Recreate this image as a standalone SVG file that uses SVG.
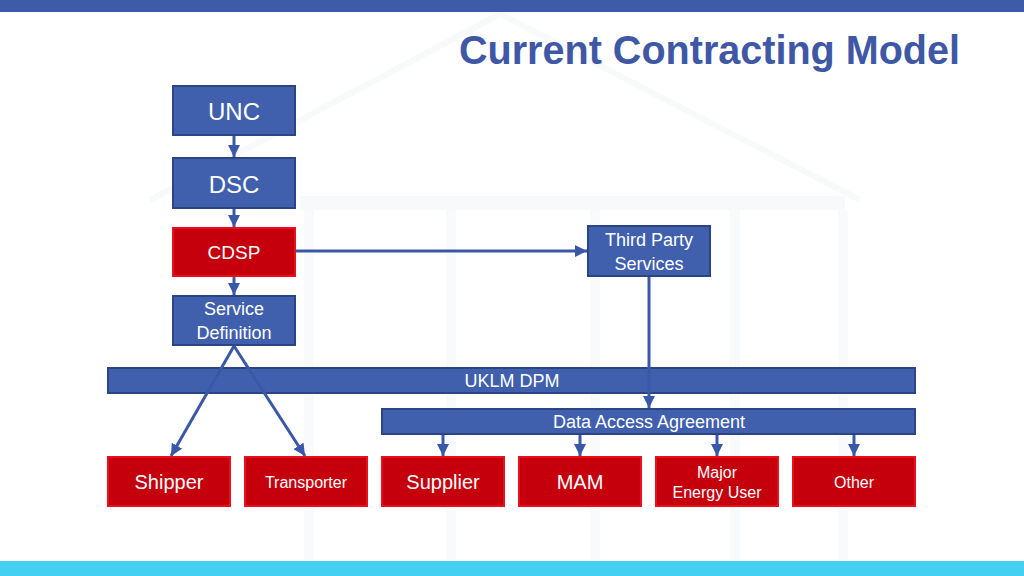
<svg xmlns="http://www.w3.org/2000/svg" width="1024" height="576" viewBox="0 0 1024 576">
  <style>
    .blue { fill: #4060ae; stroke: #2b4584; stroke-width: 2; }
    .red { fill: #c5000c; stroke: #e8101c; stroke-width: 2; }
    .t { font-family: "Liberation Sans", Arial, sans-serif; fill: #ffffff; text-anchor: middle; dominant-baseline: central; }
    .c { stroke: #3a58a8; stroke-width: 3; fill: none; marker-end: url(#ah); }
    .bg { stroke: #f8f9fa; fill: none; }
  </style>
  <defs>
    <marker id="ah" viewBox="0 0 10 10" refX="10" refY="5" markerWidth="4" markerHeight="4" orient="auto" markerUnits="strokeWidth">
      <path d="M0,0 L10,5 L0,10 z" fill="#3a58a8"/>
    </marker>
  </defs>
  <rect width="1024" height="576" fill="#ffffff"/>
  <g id="background">
    <polyline class="bg" stroke-width="6" points="150,200 500,14 860,200"/>
    <rect x="300" y="196" width="545" height="14" fill="#f8f9fa"/>
    <g fill="#f9fafb">
      <rect x="304" y="210" width="10" height="350"/>
      <rect x="446" y="210" width="10" height="350"/>
      <rect x="590" y="210" width="10" height="350"/>
      <rect x="730" y="210" width="10" height="350"/>
      <rect x="838" y="210" width="10" height="350"/>
    </g>
  </g>
  <rect x="0" y="0" width="1024" height="12" fill="#3d5ba8"/>
  <rect x="0" y="561" width="1024" height="15" fill="#45d0f2"/>
  <text x="960" y="64" font-family="'Liberation Sans', Arial, sans-serif" font-weight="bold" font-size="40" fill="#3f58a6" text-anchor="end" textLength="501" lengthAdjust="spacingAndGlyphs">Current Contracting Model</text>

  <g id="unc"><rect class="blue" x="173" y="86" width="122" height="49"/><text class="t" x="234" y="111" font-size="24">UNC</text></g>
  <g id="dsc"><rect class="blue" x="173" y="158" width="122" height="50"/><text class="t" x="234" y="184" font-size="24">DSC</text></g>
  <g id="cdsp"><rect class="red" x="173" y="228" width="122" height="48"/><text class="t" x="234" y="252" font-size="19">CDSP</text></g>
  <g id="service-definition"><rect class="blue" x="173" y="296" width="122" height="49"/><text class="t" x="234" y="309" font-size="18">Service</text><text class="t" x="234" y="333" font-size="18">Definition</text></g>
  <g id="third-party"><rect class="blue" x="588" y="226" width="122" height="50"/><text class="t" x="649" y="240" font-size="18">Third Party</text><text class="t" x="649" y="264" font-size="18">Services</text></g>
  <g id="uklm"><rect class="blue" x="108" y="368" width="807" height="25"/><text class="t" x="512" y="381" font-size="18">UKLM DPM</text></g>
  <g id="daa"><rect class="blue" x="382" y="409" width="533" height="25"/><text class="t" x="649" y="422" font-size="18">Data Access Agreement</text></g>

  <g id="shipper"><rect class="red" x="108" y="457" width="122" height="49"/><text class="t" x="169" y="482" font-size="20">Shipper</text></g>
  <g id="transporter"><rect class="red" x="245" y="457" width="122" height="49"/><text class="t" x="306" y="482" font-size="16">Transporter</text></g>
  <g id="supplier"><rect class="red" x="382" y="457" width="122" height="49"/><text class="t" x="443" y="482" font-size="20">Supplier</text></g>
  <g id="mam"><rect class="red" x="519" y="457" width="122" height="49"/><text class="t" x="580" y="482" font-size="20">MAM</text></g>
  <g id="major-energy-user"><rect class="red" x="656" y="457" width="122" height="49"/><text class="t" x="717" y="472" font-size="16">Major</text><text class="t" x="717" y="492" font-size="16">Energy User</text></g>
  <g id="other"><rect class="red" x="793" y="457" width="122" height="49"/><text class="t" x="854" y="482" font-size="16">Other</text></g>

  <g id="connectors">
    <line class="c" x1="234" y1="136" x2="234" y2="157"/>
    <line class="c" x1="234" y1="209" x2="234" y2="227"/>
    <line class="c" x1="234" y1="277" x2="234" y2="295"/>
    <line class="c" x1="296" y1="251" x2="587" y2="251"/>
    <line class="c" x1="649" y1="277" x2="649" y2="408"/>
    <line class="c" x1="234" y1="346" x2="171" y2="456"/>
    <line class="c" x1="234" y1="346" x2="305" y2="456"/>
    <line class="c" x1="443" y1="435" x2="443" y2="456"/>
    <line class="c" x1="580" y1="435" x2="580" y2="456"/>
    <line class="c" x1="717" y1="435" x2="717" y2="456"/>
    <line class="c" x1="854" y1="435" x2="854" y2="456"/>
  </g>
</svg>
